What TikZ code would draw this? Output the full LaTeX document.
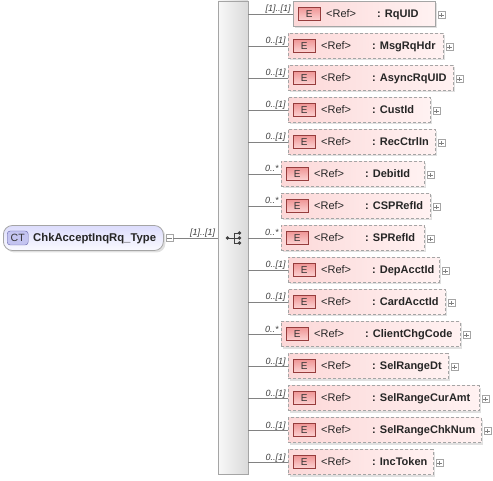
\documentclass[tikz,border=0pt]{standalone}
\usepackage{fontspec}
\setmainfont{Liberation Sans}
\usetikzlibrary{shadows}
\definecolor{edge}{RGB}{165,165,165}
\definecolor{wire}{RGB}{130,130,130}
\definecolor{pinkL}{RGB}{252,216,216}
\definecolor{pinkR}{RGB}{255,242,242}
\definecolor{badgeT}{RGB}{240,150,150}
\definecolor{badgeB}{RGB}{252,212,212}
\definecolor{badgeline}{RGB}{150,60,60}
\definecolor{lavT}{RGB}{220,220,252}
\definecolor{lavB}{RGB}{250,250,255}
\definecolor{ctfill}{RGB}{196,196,240}
\definecolor{ctline}{RGB}{100,100,170}
\definecolor{barL}{RGB}{248,248,248}
\definecolor{barR}{RGB}{218,218,218}
\begin{document}
\begin{tikzpicture}[x=1pt, y=-1pt,
	conn/.style={draw=wire, line width=0.8pt},
	elembox/.style={rectangle, draw=edge, line width=0.8pt, minimum height=25pt, inner sep=0pt, anchor=west, left color=pinkL, right color=pinkR, drop shadow={shadow xshift=2pt, shadow yshift=-2pt, fill=black!12, opacity=1}},
	optbox/.style={elembox, dash pattern=on 3pt off 2pt},
	ebadge/.style={rectangle, draw=badgeline, top color=badgeT, bottom color=badgeB, minimum width=22pt, minimum height=13pt, inner sep=0pt, anchor=west, font=\fontsize{10}{10}\selectfont, text=black!80},
	reftxt/.style={inner sep=0pt, anchor=base west, font=\fontsize{11}{12}\selectfont, text=black!85},
	nametxt/.style={inner sep=0pt, anchor=base west, font=\fontsize{11}{12}\selectfont\bfseries, text=black!85},
	card/.style={inner sep=0pt, anchor=base east, xshift=-2pt, yshift=2pt, font=\fontsize{9}{9}\selectfont\itshape, text=black!75},
	plusbox/.style={rectangle, draw=edge, fill=white, minimum size=7pt, inner sep=0pt, anchor=west, xshift=2pt, yshift=-1pt,
		path picture={\draw[black!50] ([xshift=-2.2pt]path picture bounding box.center) -- ([xshift=2.2pt]path picture bounding box.center) ([yshift=-2.2pt]path picture bounding box.center) -- ([yshift=2.2pt]path picture bounding box.center);}},
	minusbox/.style={rectangle, draw=edge, fill=white, minimum size=7pt, inner sep=0pt, anchor=west,
		path picture={\draw[black!50] ([xshift=-2.2pt]path picture bounding box.center) -- ([xshift=2.2pt]path picture bounding box.center);}},
	seqbar/.style={rectangle, draw=edge, line width=0.8pt, left color=barL, right color=barR, minimum width=30pt, minimum height=473pt, inner sep=0pt},
	ctbox/.style={rectangle, rounded corners=9pt, draw=edge, line width=0.8pt, top color=lavT, bottom color=lavB, minimum width=160pt, minimum height=25pt, inner sep=0pt, anchor=west, drop shadow={shadow xshift=2pt, shadow yshift=-2pt, fill=black!12, opacity=1}},
	cticon/.style={rectangle, rounded corners=3pt, draw=ctline, fill=ctfill, minimum width=21pt, minimum height=14pt, inner sep=0pt, anchor=west, font=\fontsize{10.5}{11}\selectfont, text=black!80}]
	
	\useasboundingbox (0,0) rectangle (493,481);
	
	% complex type
	\node[ctbox] (ct) at (3,238) {};
	\node[cticon] (cti) at ([xshift=4pt]ct.west) {CT};
	\node[nametxt, font=\fontsize{11.3}{12}\selectfont\bfseries] (ctn) at ([xshift=30pt,yshift=-4pt]ct.west) {ChkAcceptInqRq\_Type};
	\node[minusbox] (ctm) at ([xshift=2pt]ct.east) {};
	
	% sequence
	\node[seqbar] (seq) at (233,237.5) {};
	\draw[conn] (ctm.east) -- (seq.west |- ctm.east) node[card] {[1]..[1]};
	\coordinate (hub) at (233,238);
	\fill[black!75] ([xshift=-5.5pt]hub) circle (1.8pt);
	\draw[black!75, line width=0.8pt] ([xshift=-5.5pt]hub) -- ([xshift=6.5pt]hub) ([xshift=1pt,yshift=5pt]hub) -- ([xshift=1pt,yshift=-5pt]hub) ([xshift=1pt,yshift=5pt]hub) -- ([xshift=6.5pt,yshift=5pt]hub) ([xshift=1pt,yshift=-5pt]hub) -- ([xshift=6.5pt,yshift=-5pt]hub);
	\fill[black!75] ([xshift=6.5pt,yshift=5pt]hub) circle (1.8pt) ([xshift=6.5pt]hub) circle (1.8pt) ([xshift=6.5pt,yshift=-5pt]hub) circle (1.8pt);
	
	% RqUID
	\node[elembox, minimum width=142pt] (e1) at (293,14) {};
	\node[ebadge] (b1) at ([xshift=5pt]e1.west) {E};
	\node[reftxt] (r1) at ([xshift=33pt,yshift=-3.8pt]e1.west) {<Ref>};
	\node[nametxt] (n1) at ([xshift=84pt,yshift=-3.8pt]e1.west) {: RqUID};
	\node[plusbox] (p1) at (e1.east) {};
	\draw[conn] (seq.east |- e1.west) -- (e1.west) node[card] {[1]..[1]};
	
	% MsgRqHdr
	\node[optbox, minimum width=155pt] (e2) at (288,46) {};
	\node[ebadge] (b2) at ([xshift=5pt]e2.west) {E};
	\node[reftxt] (r2) at ([xshift=33pt,yshift=-3.8pt]e2.west) {<Ref>};
	\node[nametxt] (n2) at ([xshift=84pt,yshift=-3.8pt]e2.west) {: MsgRqHdr};
	\node[plusbox] (p2) at (e2.east) {};
	\draw[conn] (seq.east |- e2.west) -- (e2.west) node[card] {0..[1]};
	
	% AsyncRqUID
	\node[optbox, minimum width=165pt] (e3) at (288,78) {};
	\node[ebadge] (b3) at ([xshift=5pt]e3.west) {E};
	\node[reftxt] (r3) at ([xshift=33pt,yshift=-3.8pt]e3.west) {<Ref>};
	\node[nametxt] (n3) at ([xshift=84pt,yshift=-3.8pt]e3.west) {: AsyncRqUID};
	\node[plusbox] (p3) at (e3.east) {};
	\draw[conn] (seq.east |- e3.west) -- (e3.west) node[card] {0..[1]};
	
	% CustId
	\node[optbox, minimum width=142pt] (e4) at (288,110) {};
	\node[ebadge] (b4) at ([xshift=5pt]e4.west) {E};
	\node[reftxt] (r4) at ([xshift=33pt,yshift=-3.8pt]e4.west) {<Ref>};
	\node[nametxt] (n4) at ([xshift=84pt,yshift=-3.8pt]e4.west) {: CustId};
	\node[plusbox] (p4) at (e4.east) {};
	\draw[conn] (seq.east |- e4.west) -- (e4.west) node[card] {0..[1]};
	
	% RecCtrlIn
	\node[optbox, minimum width=147pt] (e5) at (288,142) {};
	\node[ebadge] (b5) at ([xshift=5pt]e5.west) {E};
	\node[reftxt] (r5) at ([xshift=33pt,yshift=-3.8pt]e5.west) {<Ref>};
	\node[nametxt] (n5) at ([xshift=84pt,yshift=-3.8pt]e5.west) {: RecCtrlIn};
	\node[plusbox] (p5) at (e5.east) {};
	\draw[conn] (seq.east |- e5.west) -- (e5.west) node[card] {0..[1]};
	
	% DebitId
	\node[optbox, minimum width=143pt] (e6) at (281,174) {};
	\node[ebadge] (b6) at ([xshift=5pt]e6.west) {E};
	\node[reftxt] (r6) at ([xshift=33pt,yshift=-3.8pt]e6.west) {<Ref>};
	\node[nametxt] (n6) at ([xshift=84pt,yshift=-3.8pt]e6.west) {: DebitId};
	\node[plusbox] (p6) at (e6.east) {};
	\draw[conn] (seq.east |- e6.west) -- (e6.west) node[card] {0..*};
	
	% CSPRefId
	\node[optbox, minimum width=149pt] (e7) at (281,206) {};
	\node[ebadge] (b7) at ([xshift=5pt]e7.west) {E};
	\node[reftxt] (r7) at ([xshift=33pt,yshift=-3.8pt]e7.west) {<Ref>};
	\node[nametxt] (n7) at ([xshift=84pt,yshift=-3.8pt]e7.west) {: CSPRefId};
	\node[plusbox] (p7) at (e7.east) {};
	\draw[conn] (seq.east |- e7.west) -- (e7.west) node[card] {0..*};
	
	% SPRefId
	\node[optbox, minimum width=143pt] (e8) at (281,238) {};
	\node[ebadge] (b8) at ([xshift=5pt]e8.west) {E};
	\node[reftxt] (r8) at ([xshift=33pt,yshift=-3.8pt]e8.west) {<Ref>};
	\node[nametxt] (n8) at ([xshift=84pt,yshift=-3.8pt]e8.west) {: SPRefId};
	\node[plusbox] (p8) at (e8.east) {};
	\draw[conn] (seq.east |- e8.west) -- (e8.west) node[card] {0..*};
	
	% DepAcctId
	\node[optbox, minimum width=151pt] (e9) at (288,270) {};
	\node[ebadge] (b9) at ([xshift=5pt]e9.west) {E};
	\node[reftxt] (r9) at ([xshift=33pt,yshift=-3.8pt]e9.west) {<Ref>};
	\node[nametxt] (n9) at ([xshift=84pt,yshift=-3.8pt]e9.west) {: DepAcctId};
	\node[plusbox] (p9) at (e9.east) {};
	\draw[conn] (seq.east |- e9.west) -- (e9.west) node[card] {0..[1]};
	
	% CardAcctId
	\node[optbox, minimum width=157pt] (e10) at (288,302) {};
	\node[ebadge] (b10) at ([xshift=5pt]e10.west) {E};
	\node[reftxt] (r10) at ([xshift=33pt,yshift=-3.8pt]e10.west) {<Ref>};
	\node[nametxt] (n10) at ([xshift=84pt,yshift=-3.8pt]e10.west) {: CardAcctId};
	\node[plusbox] (p10) at (e10.east) {};
	\draw[conn] (seq.east |- e10.west) -- (e10.west) node[card] {0..[1]};
	
	% ClientChgCode
	\node[optbox, minimum width=179pt] (e11) at (281,334) {};
	\node[ebadge] (b11) at ([xshift=5pt]e11.west) {E};
	\node[reftxt] (r11) at ([xshift=33pt,yshift=-3.8pt]e11.west) {<Ref>};
	\node[nametxt] (n11) at ([xshift=84pt,yshift=-3.8pt]e11.west) {: ClientChgCode};
	\node[plusbox] (p11) at (e11.east) {};
	\draw[conn] (seq.east |- e11.west) -- (e11.west) node[card] {0..*};
	
	% SelRangeDt
	\node[optbox, minimum width=160pt] (e12) at (288,366) {};
	\node[ebadge] (b12) at ([xshift=5pt]e12.west) {E};
	\node[reftxt] (r12) at ([xshift=33pt,yshift=-3.8pt]e12.west) {<Ref>};
	\node[nametxt] (n12) at ([xshift=84pt,yshift=-3.8pt]e12.west) {: SelRangeDt};
	\node[plusbox] (p12) at (e12.east) {};
	\draw[conn] (seq.east |- e12.west) -- (e12.west) node[card] {0..[1]};
	
	% SelRangeCurAmt
	\node[optbox, minimum width=191pt] (e13) at (288,398) {};
	\node[ebadge] (b13) at ([xshift=5pt]e13.west) {E};
	\node[reftxt] (r13) at ([xshift=33pt,yshift=-3.8pt]e13.west) {<Ref>};
	\node[nametxt] (n13) at ([xshift=84pt,yshift=-3.8pt]e13.west) {: SelRangeCurAmt};
	\node[plusbox] (p13) at (e13.east) {};
	\draw[conn] (seq.east |- e13.west) -- (e13.west) node[card] {0..[1]};
	
	% SelRangeChkNum
	\node[optbox, minimum width=193pt] (e14) at (288,430) {};
	\node[ebadge] (b14) at ([xshift=5pt]e14.west) {E};
	\node[reftxt] (r14) at ([xshift=33pt,yshift=-3.8pt]e14.west) {<Ref>};
	\node[nametxt] (n14) at ([xshift=84pt,yshift=-3.8pt]e14.west) {: SelRangeChkNum};
	\node[plusbox] (p14) at (e14.east) {};
	\draw[conn] (seq.east |- e14.west) -- (e14.west) node[card] {0..[1]};
	
	% IncToken
	\node[optbox, minimum width=145pt] (e15) at (288,462) {};
	\node[ebadge] (b15) at ([xshift=5pt]e15.west) {E};
	\node[reftxt] (r15) at ([xshift=33pt,yshift=-3.8pt]e15.west) {<Ref>};
	\node[nametxt] (n15) at ([xshift=84pt,yshift=-3.8pt]e15.west) {: IncToken};
	\node[plusbox] (p15) at (e15.east) {};
	\draw[conn] (seq.east |- e15.west) -- (e15.west) node[card] {0..[1]};
	
\end{tikzpicture}
\end{document}
